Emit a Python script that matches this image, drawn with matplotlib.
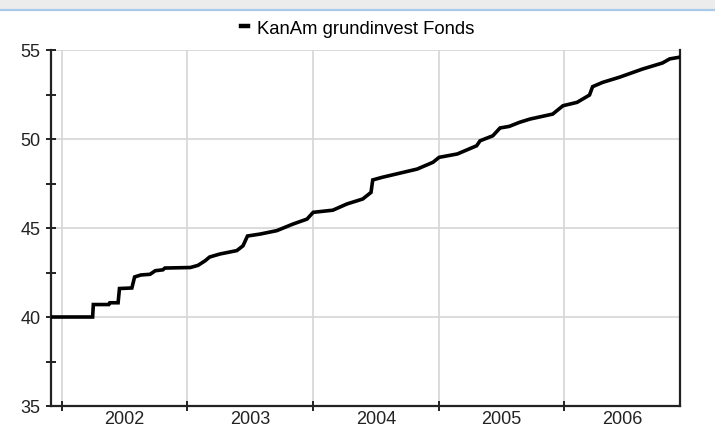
import numpy as np
import pandas as pd
import matplotlib
matplotlib.use("Agg")
import matplotlib.pyplot as plt
import matplotlib.dates as mdates
from matplotlib.patches import Rectangle
from matplotlib.lines import Line2D

dates = [
    "2001-12-01", "2002-04-01", "2002-04-03", "2002-05-18", "2002-05-21", "2002-06-14",
    "2002-06-18", "2002-07-24", "2002-08-01", "2002-08-19", "2002-09-15", "2002-09-30",
    "2002-10-22", "2002-10-28", "2003-01-10", "2003-02-01", "2003-02-22", "2003-03-07",
    "2003-04-06", "2003-05-25", "2003-06-12", "2003-06-25", "2003-08-01", "2003-09-18",
    "2003-11-04", "2003-12-15", "2004-01-02", "2004-02-28", "2004-04-09", "2004-05-25",
    "2004-06-18", "2004-06-23", "2004-07-21", "2004-10-30", "2004-12-15", "2005-01-02",
    "2005-02-24", "2005-04-21", "2005-05-01", "2005-06-07", "2005-06-28", "2005-07-25",
    "2005-08-24", "2005-09-23", "2005-11-28", "2005-12-28", "2006-02-07", "2006-03-15",
    "2006-03-24", "2006-04-22", "2006-06-10", "2006-08-16", "2006-10-13", "2006-11-03",
    "2006-12-03",
]
prices = [
    40.0, 40.0, 40.7, 40.7, 40.8, 40.8,
    41.6, 41.63, 42.25, 42.36, 42.4, 42.6,
    42.65, 42.75, 42.78, 42.9, 43.16, 43.37,
    43.54, 43.73, 44.0, 44.55, 44.66, 44.85,
    45.22, 45.5, 45.88, 46.0, 46.35, 46.63,
    47.0, 47.7, 47.85, 48.31, 48.69, 48.97,
    49.16, 49.62, 49.9, 50.18, 50.62, 50.71,
    50.94, 51.12, 51.4, 51.87, 52.06, 52.47,
    52.94, 53.18, 53.47, 53.93, 54.27, 54.5,
    54.6,
]
series_name = "KanAm grundinvest Fonds"
years = [2002, 2003, 2004, 2005, 2006]
y_ticks = [35, 40, 45, 50, 55]

plt.rcParams["font.family"] = ["Liberation Sans", "DejaVu Sans"]

fig = plt.figure(figsize=(7.15, 4.27), dpi=100)
ax = fig.add_axes([51 / 715, 1 - 407 / 427, 629 / 715, 356 / 427])

# grey header strip at the very top
fig.patches.append(Rectangle((0, 1 - 10 / 427), 1, 10 / 427, transform=fig.transFigure,
                             facecolor="#ececec", edgecolor="none", zorder=0))
fig.lines.append(Line2D([0, 1], [1 - 10.5 / 427] * 2, transform=fig.transFigure,
                        color="#a9c9ea", lw=1.6))

ax.plot(pd.to_datetime(dates), prices, color="black", lw=2.6,
        label=series_name, solid_joinstyle="miter", zorder=3)

xmin = pd.Timestamp("2001-12-01")
xmax = pd.Timestamp("2006-12-03")
ax.set_xlim(xmin, xmax)
ax.set_ylim(35, 55)

# year boundaries as major ticks, labels centred in the visible part of each year
ax.set_xticks([pd.Timestamp(f"{y}-01-01") for y in years])
ax.set_xticklabels([])
mids = []
for y in years:
    a = max(mdates.date2num(pd.Timestamp(f"{y}-01-01")), mdates.date2num(xmin))
    b = min(mdates.date2num(pd.Timestamp(f"{y + 1}-01-01")), mdates.date2num(xmax))
    mids.append((a + b) / 2)
ax.set_xticks(mids, minor=True)
ax.set_xticklabels([str(y) for y in years], minor=True)
ax.tick_params(axis="x", which="minor", length=0, pad=3, labelsize=13, colors="#222222")
ax.tick_params(axis="x", which="major", direction="inout", length=7, width=1.4, color="#222222")

ax.set_yticks(y_ticks)
ax.set_yticks([37.5, 42.5, 47.5, 52.5], minor=True)
ax.tick_params(axis="y", which="both", direction="inout", length=7, width=1.4,
               color="#222222", labelsize=13, labelcolor="#222222", pad=4)

ax.grid(True, which="major", color="#d6d6d6", lw=1.2)
ax.set_axisbelow(True)

for side in ["left", "bottom", "right"]:
    ax.spines[side].set_color("#222222")
    ax.spines[side].set_linewidth(1.6)
ax.spines["top"].set_visible(False)

leg = ax.legend(loc="center", bbox_to_anchor=(0.5, 1 - 29 / 427), bbox_transform=fig.transFigure,
                frameon=False, handlelength=0.4, handletextpad=0.45, fontsize=13.3)
for h in leg.get_lines():
    h.set_linewidth(3.2)

fig.savefig("out.png", dpi=100)
